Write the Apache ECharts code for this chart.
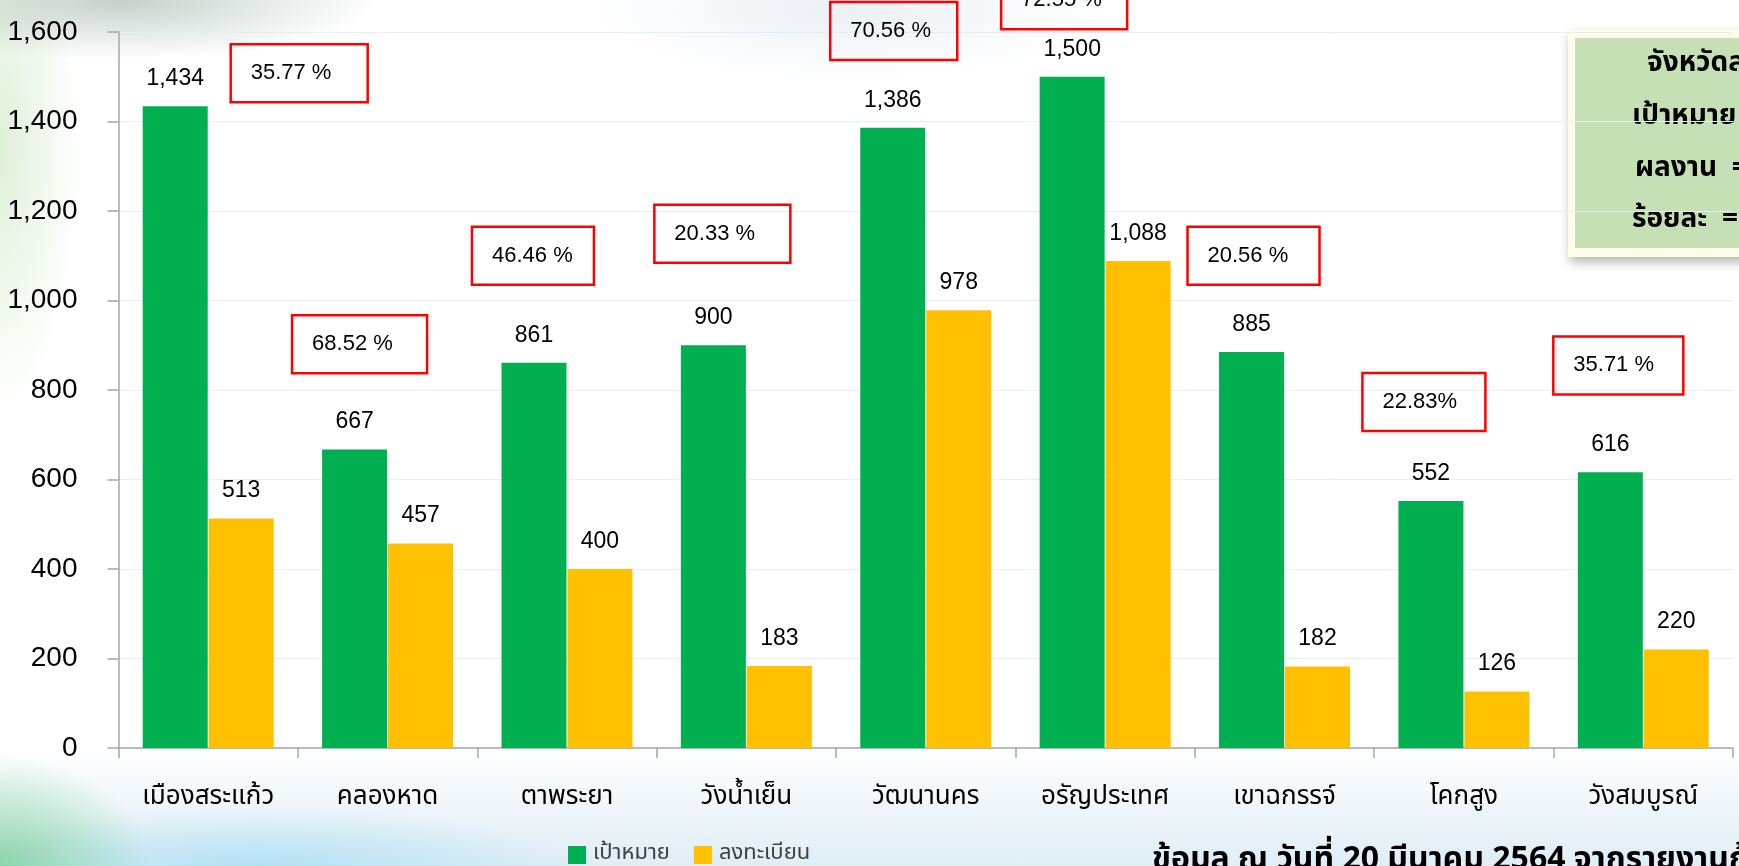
<!DOCTYPE html>
<html>
<head>
<meta charset="utf-8">
<script src="https://cdn.jsdelivr.net/npm/echarts@6/dist/echarts.min.js"></script>
<style>
html,body{margin:0;padding:0;width:1739px;height:866px;overflow:hidden;}
body{
  background:
    radial-gradient(ellipse 260px 60px at 120px 0px, rgba(150,170,160,0.55), rgba(150,170,160,0) 100%),
    radial-gradient(ellipse 80px 260px at 0px 150px, rgba(200,230,190,0.6), rgba(200,230,190,0) 100%),
    radial-gradient(ellipse 260px 70px at 850px 10px, rgba(215,225,235,0.5), rgba(215,225,235,0) 100%),
    radial-gradient(ellipse 150px 110px at 0px 866px, rgba(100,200,130,0.65), rgba(100,200,130,0) 100%),
    radial-gradient(ellipse 320px 60px at 260px 866px, rgba(150,215,240,0.6), rgba(150,215,240,0) 100%),
    linear-gradient(to bottom, rgba(255,255,255,0) 86%, rgba(210,230,242,0.7) 100%),
    #ffffff;
}
#chart{width:1739px;height:866px;}
</style>
</head>
<body>
<div id="chart"></div>
<script>
// ---- data ----
const categories = ['เมืองสระแก้ว','คลองหาด','ตาพระยา','วังน้ำเย็น','วัฒนานคร','อรัญประเทศ','เขาฉกรรจ์','โคกสูง','วังสมบูรณ์'];
const targetValues = [1434, 667, 861, 900, 1386, 1500, 885, 552, 616];
const registeredValues = [513, 457, 400, 183, 978, 1088, 182, 126, 220];
const percentLabels = ['35.77 %','68.52 %','46.46 %','20.33 %','70.56 %','72.55 %','20.56 %','22.83%','35.71 %'];
const yTicks = [0, 200, 400, 600, 800, 1000, 1200, 1400, 1600];
const seriesNames = ['เป้าหมาย', 'ลงทะเบียน'];

// ---- annotation layout (percent boxes), y in axis units ----
const boxLevels = [1508, 902, 1100, 1149, 1602, 1671, 1100, 773, 855];
const boxShift = [91, -28, -34, -24, -32, -41, -31, -40, -25];
const boxWidths = [137, 135, 122, 136, 127, 126, 132, 123, 130];

const numFont = 'Liberation Sans, Arial, sans-serif';
const thaiFont = 'Noto Sans Thai, Noto Sans, Tahoma, sans-serif';

const chart = echarts.init(document.getElementById('chart'), null, {renderer: 'canvas'});

const option = {
  animation: false,
  backgroundColor: 'transparent',
  grid: {left: 118.5, right: 6, top: 32, bottom: 118, containLabel: false},
  legend: {
    data: seriesNames,
    left: 563, top: 839,
    icon: 'rect', itemWidth: 18, itemHeight: 18, itemGap: 24,
    textStyle: {fontSize: 22, color: '#404040', fontFamily: thaiFont, padding: [0,0,0,2]}
  },
  xAxis: {
    type: 'category',
    data: categories,
    axisLine: {lineStyle: {color: '#A6A6A6', width: 1.5}},
    axisTick: {show: true, length: 10, lineStyle: {color: '#A6A6A6', width: 1.5}},
    axisLabel: {fontSize: 26, color: '#000', fontFamily: thaiFont, margin: 38}
  },
  yAxis: {
    type: 'value',
    min: yTicks[0], max: yTicks[yTicks.length-1], interval: yTicks[1]-yTicks[0],
    axisLine: {show: true, lineStyle: {color: '#A6A6A6', width: 1.5}},
    axisTick: {show: true, length: 11, lineStyle: {color: '#A6A6A6', width: 1.5}},
    axisLabel: {fontSize: 28, color: '#000', fontFamily: numFont, margin: 41,
      formatter: v => v.toLocaleString('en-US')},
    splitLine: {lineStyle: {color: '#E6EDF3', width: 1}}
  },
  series: [
    {
      name: seriesNames[0], type: 'bar', data: targetValues,
      barCategoryGap: '27%', barGap: '1.5%',
      itemStyle: {color: '#00B050'},
      label: {show: true, position: 'top', distance: 16, fontSize: 23, color: '#000', fontFamily: numFont,
        formatter: p => p.value.toLocaleString('en-US')}
    },
    {
      name: seriesNames[1], type: 'bar', data: registeredValues,
      barCategoryGap: '27%', barGap: '1.5%',
      itemStyle: {color: '#FFC000'},
      label: {show: true, position: 'top', distance: 16, fontSize: 23, color: '#000', fontFamily: numFont,
        formatter: p => p.value.toLocaleString('en-US')}
    },
    {
      name: 'pct', type: 'custom', clip: false, z: 10,
      data: categories.map((c, i) => [i, boxLevels[i]]),
      renderItem: function (params, api) {
        const i = params.dataIndex;
        const p = api.coord([api.value(0), api.value(1)]);
        const w = boxWidths[i], h = 58;
        const cx = p[0] + boxShift[i];
        return {
          type: 'group',
          children: [
            {type: 'rect', shape: {x: cx - w/2, y: p[1] - h/2, width: w, height: h},
             style: {fill: 'rgba(255,255,255,0)', stroke: '#FF0000', lineWidth: 2.5}},
            {type: 'text', style: {text: percentLabels[i], x: cx - w/2 + 20, y: p[1],
             align: 'left', verticalAlign: 'middle', fontSize: 22, fontFamily: numFont, fill: '#000'}}
          ]
        };
      }
    }
  ],
  graphic: [
    {
      type: 'group', left: 1568, top: 30,
      children: [
        {type: 'rect', shape: {x: 0, y: 0, width: 220, height: 227},
         style: {fill: '#FFFDE8', shadowBlur: 10, shadowOffsetY: 5, shadowOffsetX: 2, shadowColor: 'rgba(0,0,0,0.3)'}},
        {type: 'rect', shape: {x: 7, y: 8, width: 220, height: 210}, style: {fill: '#C5E0B4'}},
        {type: 'text', style: {text: 'จังหวัดสระแก้ว', x: 79, y: 35, verticalAlign: 'middle', fontSize: 28, fontWeight: 'bold', fontFamily: thaiFont, fill: '#000'}},
        {type: 'text', style: {text: 'เป้าหมาย  =', x: 64, y: 88, verticalAlign: 'middle', fontSize: 28, fontWeight: 'bold', fontFamily: thaiFont, fill: '#000'}},
        {type: 'text', style: {text: 'ผลงาน  =', x: 67, y: 140, verticalAlign: 'middle', fontSize: 28, fontWeight: 'bold', fontFamily: thaiFont, fill: '#000'}},
        {type: 'text', style: {text: 'ร้อยละ  =', x: 64, y: 191, verticalAlign: 'middle', fontSize: 28, fontWeight: 'bold', fontFamily: thaiFont, fill: '#000'}}
      ]
    },
    {
      type: 'text', left: 1152, top: 847,
      style: {text: 'ข้อมูล ณ วันที่ 20 มีนาคม 2564 จากรายงานก้าวท้าใจ', fontSize: 32, fontWeight: 'bold', fontFamily: thaiFont, fill: '#000'}
    }
  ]
};
chart.setOption(option);
</script>
</body>
</html>
